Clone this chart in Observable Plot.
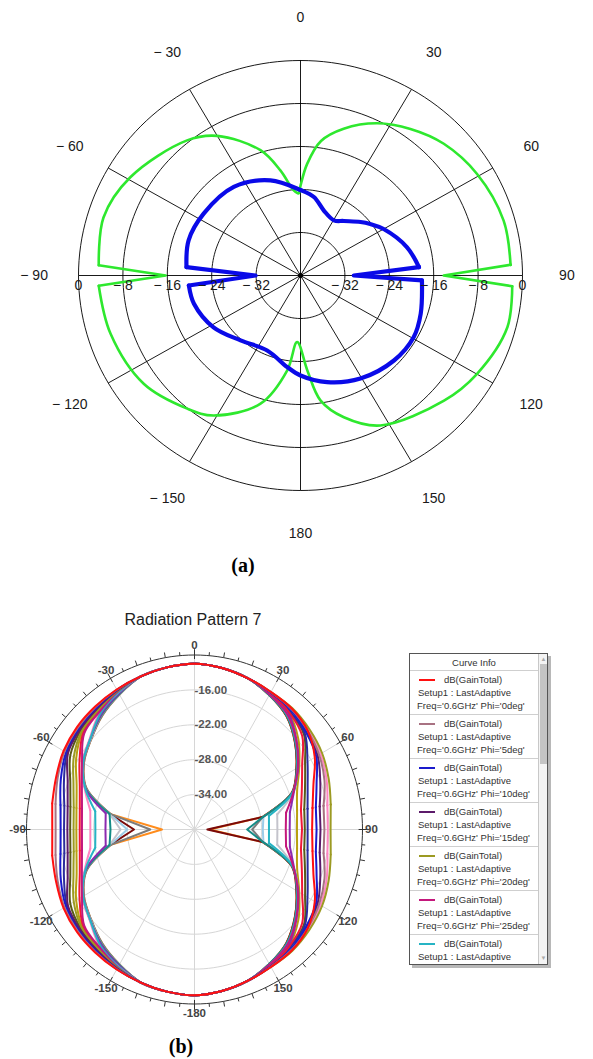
<!DOCTYPE html>
<html><head><meta charset="utf-8">
<script src="https://cdn.jsdelivr.net/npm/d3@7"></script>
<script src="https://cdn.jsdelivr.net/npm/@observablehq/plot@0.6"></script>
<style>
body{margin:0;background:#fff;}
#page{position:relative;width:593px;height:1059px;overflow:hidden;background:#fff;font-family:"Liberation Sans",Arial,sans-serif;}
#top{position:absolute;left:0;top:0;}
#bot{position:absolute;left:0;top:634px;}
.cap{position:absolute;font-family:"Liberation Serif","Times New Roman",serif;font-weight:bold;font-size:20px;transform:translate(-50%,-50%);color:#000;white-space:nowrap;}
#title{position:absolute;left:193px;top:620px;transform:translate(-50%,-50%);font-size:16px;color:#222;white-space:nowrap;}
#legend{position:absolute;left:409px;top:653px;width:137px;height:310px;border:1px solid #555;background:#fff;box-shadow:3px 3px 0 #b8b8b8;overflow:hidden;font-size:9.5px;color:#333;}
#legend .hdr{position:absolute;left:0;top:0;width:128px;height:16px;line-height:17px;text-align:center;}
#legend .sep{position:absolute;left:0;width:128px;height:0;border-top:1px solid #cfcfcf;}
#legend .t{position:absolute;white-space:nowrap;line-height:12px;}
#legend .sw{position:absolute;left:9px;width:16px;height:2px;}
#legend .sb{position:absolute;left:128px;top:0;width:9px;height:310px;border-left:1px solid #c8c8c8;background:#f4f4f4;}
#legend .thumb{position:absolute;left:1px;top:10px;width:7px;height:100px;background:#c4c4c4;}
#legend .arr{position:absolute;left:0;width:9px;text-align:center;font-size:6px;color:#aaa;line-height:8px;}
</style></head>
<body>
<div id="page">
  <div id="top"></div>
  <div class="cap" style="left:243px;top:565px;">(a)</div>
  <div id="title">Radiation Pattern 7</div>
  <div id="bot"></div>
  <div id="legend"></div>
  <div class="cap" style="left:181px;top:1046px;">(b)</div>
</div>
<script>
// ---------------- (a) data ----------------
const topRingDb = [0, -8, -16, -24, -32];
const topAngleTicks = [0, 30, 60, 90, 120, 150, 180, -150, -120, -90, -60, -30];
const topAngleLabels = ["0", "30", "60", "90", "120", "150", "180", "\u2212 150", "\u2212 120", "\u2212 90", "\u2212 60", "\u2212 30"];
const topRadialLabels = ["0", "\u2212 8", "\u2212 16", "\u2212 24", "\u2212 32"];

const greenAngle = [0, 3.3, 8.4, 15.9, 26, 36, 46.5, 59.3, 74.4, 87, 90, 93, 104.5, 119.9, 132, 152.7, 163.5, 171.2, 176, 182.8, 187.7, 196.8, 211, 219.5, 234.5, 252.4, 267, 270, 273, 286.9, 300.8, 320.9, 330, 342.8, 349.5, 355.6, 358.8];
const greenDb    = [-23.3, -19.2, -14.7, -11.6, -8.5, -6.3, -4.4, -3.0, -2.0, -2.1, -14.2, -1.8, -1.5, -3.3, -5.2, -8.6, -12.5, -16.5, -22.3, -27.6, -22.2, -15.1, -9.6, -7.9, -5.3, -4.1, -3.6, -15.7, -3.6, -2.9, -4.3, -7.6, -10.0, -15.6, -20.1, -24.1, -24.7];
const greenSpikes = [[87, 93], [267, 273]];

const blueAngle = [0, 9.4, 19.2, 30.4, 37.6, 47.4, 52.7, 60, 74.7, 85.8, 90, 92.4, 108.2, 119.4, 133.2, 150.6, 166.4, 180, 188, 203.3, 221.8, 238.4, 254.7, 264.7, 270, 274.3, 288, 303.4, 323.9, 343];
const blueDb    = [-24.1, -25.2, -27.2, -28.1, -27.2, -25.3, -24.2, -22.7, -20.1, -18.6, -30.4, -18.1, -17.2, -16.6, -16.9, -18.0, -19.6, -21.4, -22.8, -24.8, -23.8, -21.6, -20.1, -19.8, -31.9, -19.4, -18.8, -19.1, -19.6, -21.5];
const blueSpikes = [[85.8, 92.4], [264.7, 274.3]];

// ---------------- (b) data ----------------
const phiDeg = [0,5,10,15,20,25,30,35,40,45,50,55,60,65,70,75,80,85,90];
const curveColors = ["#ff1010","#a87282","#1a1acc","#5c1a6a","#9c9a22","#c4187c","#26b4c4","#ff86c2","#f01838","#8c2ab0","#148c86","#c4c4cc","#2c2c9c","#7c7c7c","#b8a010","#9ccce8","#5a5a18","#7a0a0a","#ff8c1c"];
const ringDb = [-34, -28, -22, -16];
const outerDb = -10;
const botAngleTicks = [0, 30, 60, 90, 120, 150, 180, -150, -120, -90, -60, -30];
const botAngleLabels = ["0","30","60","90","120","150","-180","-150","-120","-90","-60","-30"];

const rightTopAngle = [0, 10, 20], rightTopDb = [-11.5, -11.8, -12.3];
const midAngle = [30, 40, 50, 60, 70, 80, 90, 100, 110, 120, 130, 140, 150];
const rightBotAngle = [160, 170, 180], rightBotDb = [-12.3, -11.8, -11.5];
const leftBotAngle = [-170, -160], leftBotDb = [-11.7, -12.0];
const leftTopAngle = [-20, -10], leftTopDb = [-12.0, -11.7];
const botSpikes = [[75, 105], [-105, -75]];

// dB at +30 and +150 deg per phi
const rightAt30 = [-12.7,-12.75,-12.8,-12.8,-12.7,-13.2,-13.2,-12.7,-12.9,-13.0,-13.3,-13.2,-12.85,-13.3,-13.0,-13.25,-12.9,-13.3,-13.3];
// dB at -30 and -150 deg per phi
const leftAt30 = [-12.2,-12.25,-12.3,-12.4,-12.5,-12.6,-12.8,-12.8,-12.55,-13.0,-13.1,-13.1,-12.3,-13.2,-12.5,-13.15,-12.45,-13.15,-13.2];

// dB at +40..+140 deg (right half) per phi
const rightDb = [
 [-12.9,-13.6,-15.2,-17.4,-18.6,-19.0,-18.6,-17.4,-15.2,-13.6,-12.9],
 [-13.0,-13.6,-14.3,-15.3,-16.6,-16.8,-16.6,-15.3,-14.3,-13.6,-13.0],
 [-13.2,-14.0,-14.9,-16.8,-18.0,-18.2,-18.0,-16.8,-14.9,-14.0,-13.2],
 [-13.1,-13.8,-14.6,-16.1,-17.3,-17.5,-17.3,-16.1,-14.6,-13.8,-13.1],
 [-12.8,-13.2,-13.7,-14.5,-15.3,-15.7,-15.3,-14.5,-13.7,-13.2,-12.8],
 [-14.2,-16.3,-18.7,-21.2,-23.4,-23.7,-23.4,-21.2,-18.7,-16.3,-14.2],
 [-14.3,-16.4,-18.8,-21.3,-26.5,-26.7,-26.5,-21.3,-18.8,-16.4,-14.3],
 [-12.9,-13.4,-14.0,-14.9,-15.9,-16.2,-15.9,-14.9,-14.0,-13.4,-12.9],
 [-13.7,-14.9,-17.8,-19.6,-20.7,-20.8,-20.7,-19.6,-17.8,-14.9,-13.7],
 [-13.9,-16.2,-18.6,-21.1,-22.7,-23.0,-22.7,-21.1,-18.6,-16.2,-13.9],
 [-14.4,-16.5,-18.9,-21.4,-27.6,-30.6,-27.6,-21.4,-18.9,-16.5,-14.4],
 [-14.2,-16.3,-18.7,-21.2,-25.0,-25.2,-25.0,-21.2,-18.7,-16.3,-14.2],
 [-13.5,-14.3,-16.7,-18.5,-19.5,-19.8,-19.5,-18.5,-16.7,-14.3,-13.5],
 [-14.4,-16.5,-18.9,-21.4,-27.6,-29.7,-27.6,-21.4,-18.9,-16.5,-14.4],
 [-13.8,-15.8,-18.4,-20.5,-21.4,-21.7,-21.4,-20.5,-18.4,-15.8,-13.8],
 [-14.3,-16.4,-18.8,-21.3,-27.5,-27.8,-27.5,-21.3,-18.8,-16.4,-14.3],
 [-13.6,-14.5,-17.2,-19.0,-20.1,-20.3,-20.1,-19.0,-17.2,-14.5,-13.6],
 [-14.5,-16.6,-19.0,-21.5,-27.7,-37.7,-27.7,-21.5,-19.0,-16.6,-14.5],
 [-14.5,-16.6,-19.0,-21.5,-27.7,-37.3,-27.7,-21.5,-19.0,-16.6,-14.5]
];
// dB at -40..-140 deg (left half) per phi
const leftDb = [
 [-12.4,-12.6,-13.0,-13.7,-14.2,-14.6,-14.2,-13.7,-13.0,-12.6,-12.4],
 [-12.5,-12.8,-13.2,-14.0,-14.8,-15.2,-14.8,-14.0,-13.2,-12.8,-12.5],
 [-12.7,-13.0,-13.5,-14.6,-15.7,-16.1,-15.7,-14.6,-13.5,-13.0,-12.7],
 [-12.9,-13.3,-13.9,-15.9,-17.0,-17.3,-17.0,-15.9,-13.9,-13.3,-12.9],
 [-13.2,-13.7,-15.1,-17.0,-18.1,-18.4,-18.1,-17.0,-15.1,-13.7,-13.2],
 [-13.6,-14.3,-16.8,-18.6,-19.6,-19.9,-19.6,-18.6,-16.8,-14.3,-13.6],
 [-13.9,-15.7,-17.0,-19.2,-22.0,-22.3,-22.0,-19.2,-17.0,-15.7,-13.9],
 [-13.7,-15.6,-16.9,-19.1,-21.1,-21.4,-21.1,-19.1,-16.9,-15.6,-13.7],
 [-13.5,-14.1,-16.3,-18.2,-19.2,-19.5,-19.2,-18.2,-16.3,-14.1,-13.5],
 [-14.1,-15.7,-17.0,-19.2,-23.9,-24.1,-23.9,-19.2,-17.0,-15.7,-14.1],
 [-14.2,-15.7,-17.0,-19.3,-24.6,-25.0,-24.6,-19.3,-17.0,-15.7,-14.2],
 [-14.2,-15.8,-17.0,-19.3,-24.6,-26.8,-24.6,-19.3,-17.0,-15.8,-14.2],
 [-12.8,-13.2,-13.7,-15.2,-16.4,-16.7,-16.4,-15.2,-13.7,-13.2,-12.8],
 [-14.4,-15.9,-17.2,-19.5,-24.8,-32.1,-24.8,-19.5,-17.2,-15.9,-14.4],
 [-13.3,-13.9,-15.6,-17.6,-18.6,-18.9,-18.6,-17.6,-15.6,-13.9,-13.3],
 [-14.3,-15.8,-17.1,-19.4,-24.7,-28.0,-24.7,-19.4,-17.1,-15.8,-14.3],
 [-13.1,-13.5,-14.4,-16.4,-17.5,-17.8,-17.5,-16.4,-14.4,-13.5,-13.1],
 [-14.3,-15.8,-17.1,-19.4,-24.7,-29.2,-24.7,-19.4,-17.1,-15.8,-14.3],
 [-14.4,-15.9,-17.2,-19.5,-24.8,-34.2,-24.8,-19.5,-17.2,-15.9,-14.4]
];
const legendCount = 7;

// ---------------- helpers ----------------
const rad = a => a * Math.PI / 180;
const circleAngles = d3.range(0, 361, 2);

// split a closed loop of {a, db} into smooth arcs and straight spike runs
function splitLoop(loop, ranges) {
  const n = loop.length;
  const inLin = p => ranges.some(([lo, hi]) => p.a >= lo && p.a <= hi);
  const s = loop.findIndex((p, i) => inLin(p) && !inLin(loop[(i - 1 + n) % n]));
  const seq = d3.range(n + 1).map(k => loop[(s + k) % n]);
  const segs = [];
  let cur = {type: "lin", pts: [seq[0]]};
  for (let k = 1; k < seq.length; k++) {
    const p = seq[k], t = inLin(p) ? "lin" : "smooth";
    if (cur.type === "lin") {
      if (t === "lin") cur.pts.push(p);
      else { segs.push(cur); cur = {type: "smooth", pts: [cur.pts[cur.pts.length - 1], p]}; }
    } else {
      cur.pts.push(p);
      if (t === "lin") { segs.push(cur); cur = {type: "lin", pts: [p]}; }
    }
  }
  segs.push(cur);
  const smooth = [], lin = [];
  segs.forEach((sg, i) => sg.pts.forEach(p => (sg.type === "lin" ? lin : smooth).push({...p, seg: i})));
  return {smooth, lin};
}

// ---------------- chart (a) ----------------
{
  const R = db => (db + 40) / 40;
  const px = d => R(d.db) * Math.sin(rad(d.a));
  const py = d => R(d.db) * Math.cos(rad(d.a));
  const rings = topRingDb.flatMap(db => circleAngles.map(a => ({db, a})));
  const spokes = d3.range(0, 360, 30);
  const green = splitLoop(greenAngle.map((a, i) => ({a, db: greenDb[i]})), greenSpikes);
  const blue = splitLoop(blueAngle.map((a, i) => ({a, db: blueDb[i]})), blueSpikes);
  const angLab = topAngleTicks.map((a, i) => ({a, t: topAngleLabels[i]}));
  const radLab = topRingDb.flatMap((db, i) => [{x: -R(db), t: topRadialLabels[i]}, {x: R(db), t: topRadialLabels[i]}]);
  const font = {fontFamily: "Liberation Sans, Arial, sans-serif", fontSize: 14, fill: "#1a1a1a"};
  const gStyle = {x: px, y: py, z: "seg", stroke: "#2ee82e", strokeWidth: 2.6, strokeLinejoin: "round", strokeLinecap: "round"};
  const bStyle = {x: px, y: py, z: "seg", stroke: "#0a0ae8", strokeWidth: 4.2, strokeLinejoin: "round", strokeLinecap: "round"};
  const chart = Plot.plot({
    width: 593, height: 545,
    margin: 0,
    x: {domain: [-300/222, 293/222], range: [0, 593], axis: null},
    y: {domain: [-270/215, 275/215], range: [545, 0], axis: null},
    marks: [
      Plot.line(rings, {x: px, y: py, z: "db", stroke: "#000", strokeWidth: 0.9}),
      Plot.link(spokes, {x1: () => 0, y1: () => 0, x2: a => Math.sin(rad(a)), y2: a => Math.cos(rad(a)), stroke: "#000", strokeWidth: 0.9}),
      Plot.line(green.smooth, {...gStyle, curve: "catmull-rom"}),
      Plot.line(green.lin, {...gStyle, curve: "linear"}),
      Plot.line(blue.smooth, {...bStyle, curve: "catmull-rom"}),
      Plot.line(blue.lin, {...bStyle, curve: "linear"}),
      Plot.dot([0], {x: () => 0, y: () => 0, r: 2.5, fill: "#000"}),
      Plot.text(angLab, {x: d => 1.2 * Math.sin(rad(d.a)), y: d => 1.2 * Math.cos(rad(d.a)), text: "t", ...font}),
      Plot.text(radLab, {x: "x", y: () => -10/215, text: "t", ...font})
    ]
  });
  document.getElementById("top").appendChild(chart);
}

// ---------------- chart (b) ----------------
{
  const rb = db => db + 40;
  const kx = 5.6, ky = 174.5 / 30;
  const W = 400, H = 395, cx = 194, cy = 195;
  const bx = d => rb(d.db) * Math.sin(rad(d.a));
  const by = d => rb(d.db) * Math.cos(rad(d.a));
  const outerR = rb(outerDb);
  const grid = ringDb.flatMap(db => circleAngles.map(a => ({db, a})));
  const outer = circleAngles.map(a => ({a, db: outerDb}));
  const spokes = d3.range(0, 360, 30);
  const ticks = d3.range(0, 360, 5).map(a => ({a, r0: a % 30 === 0 ? outerR - 0.7 : outerR, r1: outerR + (a % 30 === 0 ? 1.0 : a % 10 === 0 ? 0.9 : 0.6)}));
  const angLab = botAngleTicks.map((a, i) => ({a, t: botAngleLabels[i]}));
  const ringLab = ringDb.map(db => ({db, t: db.toFixed(2)}));
  const font = {fontFamily: "Liberation Sans, Arial, sans-serif", fontSize: 11.5, fill: "#2a2a2a"};

  const curveMarks = [];
  for (let k = phiDeg.length - 1; k >= 0; k--) {
    const rightVals = [rightAt30[k], ...rightDb[k], rightAt30[k]];
    const leftVals = [leftAt30[k], ...leftDb[k], leftAt30[k]];
    const loop = [];
    rightTopAngle.forEach((a, i) => loop.push({a, db: rightTopDb[i]}));
    midAngle.forEach((a, i) => loop.push({a, db: rightVals[i]}));
    rightBotAngle.forEach((a, i) => loop.push({a, db: rightBotDb[i]}));
    leftBotAngle.forEach((a, i) => loop.push({a, db: leftBotDb[i]}));
    for (let i = midAngle.length - 1; i >= 0; i--) loop.push({a: -midAngle[i], db: leftVals[i]});
    leftTopAngle.forEach((a, i) => loop.push({a, db: leftTopDb[i]}));
    const parts = splitLoop(loop, botSpikes);
    const st = {x: bx, y: by, z: "seg", stroke: curveColors[k], strokeWidth: 2, strokeLinejoin: "round", strokeLinecap: "round"};
    curveMarks.push(Plot.line(parts.smooth, {...st, curve: "catmull-rom"}));
    curveMarks.push(Plot.line(parts.lin, {...st, curve: "linear"}));
  }

  const chart = Plot.plot({
    width: W, height: H,
    margin: 0,
    x: {domain: [-cx / kx, (W - cx) / kx], range: [0, W], axis: null},
    y: {domain: [-(H - cy) / ky, cy / ky], range: [H, 0], axis: null},
    marks: [
      Plot.line(grid, {x: bx, y: by, z: "db", stroke: "#d6d6d6", strokeWidth: 1}),
      Plot.link(spokes, {x1: () => 0, y1: () => 0, x2: a => outerR * Math.sin(rad(a)), y2: a => outerR * Math.cos(rad(a)), stroke: "#d6d6d6", strokeWidth: 1}),
      Plot.text(ringLab, {x: () => 0, y: d => rb(d.db), text: "t", textAnchor: "start", dx: 0, ...font, fontWeight: "bold", fill: "#555"}),
      ...curveMarks,
      Plot.line(outer, {x: bx, y: by, stroke: "#333", strokeWidth: 1}),
      Plot.link(ticks, {x1: d => d.r0 * Math.sin(rad(d.a)), y1: d => d.r0 * Math.cos(rad(d.a)), x2: d => d.r1 * Math.sin(rad(d.a)), y2: d => d.r1 * Math.cos(rad(d.a)), stroke: "#333", strokeWidth: 1}),
      Plot.text(angLab, {x: d => 31.6 * Math.sin(rad(d.a)), y: d => 31.6 * Math.cos(rad(d.a)), text: "t", ...font, fontWeight: "bold", fill: "#444"})
    ]
  });
  document.getElementById("bot").appendChild(chart);
}

// ---------------- legend ----------------
{
  const lg = document.getElementById("legend");
  let html = '<div class="hdr">Curve Info</div><div class="sep" style="top:16px"></div>';
  for (let i = 0; i < legendCount; i++) {
    const t = 16 + 44 * i;
    const last = i === legendCount - 1;
    html += `<div class="sw" style="top:${t + 9}px;background:${curveColors[i]}"></div>`;
    html += `<div class="t" style="left:34px;top:${t + 4}px">dB(GainTotal)</div>`;
    html += `<div class="t" style="left:8px;top:${t + 17}px">Setup1 : LastAdaptive</div>`;
    if (!last) {
      html += `<div class="t" style="left:7px;top:${t + 30}px">Freq='0.6GHz' Phi='${phiDeg[i]}deg'</div>`;
      html += `<div class="sep" style="top:${t + 44}px"></div>`;
    }
  }
  html += '<div class="sb"><div class="arr" style="top:1px">&#9650;</div><div class="thumb"></div><div class="arr" style="top:300px">&#9660;</div></div>';
  lg.innerHTML = html;
}
</script>
</body></html>
